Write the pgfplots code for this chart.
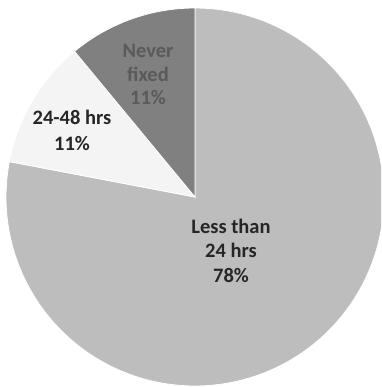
\documentclass[border=0pt]{standalone}
\usepackage{fontspec}
\setmainfont{Carlito}
\usepackage{pgfplots}
\pgfplotsset{compat=1.18}
\definecolor{sliceA}{HTML}{BDBDBD}
\definecolor{sliceB}{HTML}{F4F4F4}
\definecolor{sliceC}{HTML}{808080}
\definecolor{txtA}{HTML}{262626}
\definecolor{txtC}{HTML}{5A5A5A}
\tikzset{lbl/.style={anchor=base, inner sep=0pt, font=\fontsize{20.5}{24.5}\selectfont\bfseries}}
% shares in percent
\def\pA{78}\def\pB{11}\def\pC{11}
\pgfmathsetmacro{\aStart}{90}
\pgfmathsetmacro{\aOne}{90-3.6*\pA}
\pgfmathsetmacro{\aTwo}{\aOne-3.6*\pB}
\pgfmathsetmacro{\aThree}{\aTwo-3.6*\pC}
\def\cx{195}\def\cy{190}\def\R{189}
\begin{document}
\begin{tikzpicture}
\begin{axis}[
  width=381pt, height=387pt, scale only axis,
  xmin=0, xmax=381, ymin=0, ymax=387,
  hide axis, clip=true,
]
\addplot[draw=none, forget plot] coordinates {(0,0) (381,387)};
\addplot[fill=sliceA, draw=white, line width=0.8pt, domain=\aOne:\aStart, samples=120, variable=\t]
  ({\cx+\R*cos(t)}, {\cy+\R*sin(t)}) -- (axis cs:\cx,\cy) -- cycle;
\addplot[fill=sliceB, draw=white, line width=0.8pt, domain=\aTwo:\aOne, samples=30, variable=\t]
  ({\cx+\R*cos(t)}, {\cy+\R*sin(t)}) -- (axis cs:\cx,\cy) -- cycle;
\addplot[fill=sliceC, draw=white, line width=0.8pt, domain=\aThree:\aTwo, samples=30, variable=\t]
  ({\cx+\R*cos(t)}, {\cy+\R*sin(t)}) -- (axis cs:\cx,\cy) -- cycle;
\node[lbl, text=txtA] at (axis cs:231,153) {Less than};
\node[lbl, text=txtA] at (axis cs:231,129) {24 hrs};
\node[lbl, text=txtA] at (axis cs:231,104) {78\%};
\node[lbl, text=txtA] at (axis cs:72,262) {24-48 hrs};
\node[lbl, text=txtA] at (axis cs:72,236) {11\%};
\node[lbl, text=txtC] at (axis cs:148,329) {Never};
\node[lbl, text=txtC] at (axis cs:148,305) {fixed};
\node[lbl, text=txtC] at (axis cs:148,282) {11\%};
\end{axis}
\end{tikzpicture}
\end{document}
